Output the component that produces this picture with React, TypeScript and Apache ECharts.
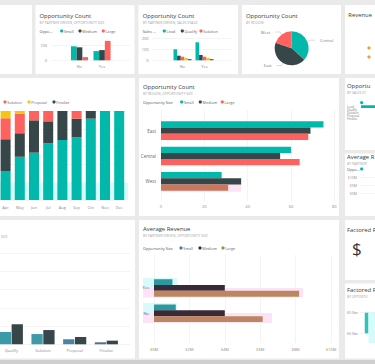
import React, { useEffect, useRef } from 'react';
import * as echarts from 'echarts';

const FONT = "'Open Sans', 'Noto Sans', sans-serif";
const TEAL = '#01B8AA';
const DARK = '#374649';
const RED = '#FD625E';
const YELLOW = '#F2C80F';
const GRAY = '#5F6B6D';

// Tile B: opportunity count by partner driven, opportunity size
const partnerCats = ['No', 'Yes'];
const smallByPartner = [96, 63];
const mediumByPartner = [89, 70];
const largeByPartner = [22, 133];

// Tile C: opportunity count by partner driven, sales stage
const leadByPartner = [100, 164];
const qualifyByPartner = [42, 48];
const solutionByPartner = [33, 33];
const proposalByPartner = [21, 21];
const finalizeByPartner = [12, 12];

// Tile D: opportunity count by region
const regionNames = ['Central', 'East', 'West'];
const regionCounts = [179, 212, 96];

// Tile F: 100% stacked by month
const months = ['Apr', 'May', 'Jun', 'Jul', 'Aug', 'Sep', 'Oct', 'Nov', 'Dec'];
const leadPct = [32.6, 48.7, 53.2, 63.7, 67.4, 70.4, 91.4, 100, 100];
const qualifyPct = [35.6, 26.2, 36.3, 24.7, 32.6, 21.0, 8.6, 0, 0];
const solutionPct = [23.6, 22.1, 10.5, 11.6, 0, 8.6, 0, 0, 0];
const proposalPct = [8.2, 3.0, 0, 0, 0, 0, 0, 0, 0];
const finalizePct = [0, 0, 0, 0, 0, 0, 0, 0, 0];

// Tile G: opportunity count by region, opportunity size
const regionOrder = ['East', 'Central', 'West'];
const smallByRegion = [75, 60, 28];
const mediumByRegion = [69, 55, 37];
const largeByRegion = [68, 64, 31];

// Tile H: by sales stage (funnel)
const stageNames = ['Lead', 'Qualify', 'Solution', 'Proposal', 'Finalize'];
const stageCounts = [264, 90, 66, 42, 24];

// Tile J: by sales stage (grouped columns)
const stageVisible = ['Qualify', 'Solution', 'Proposal', 'Finalize'];
const stageSeriesA = [34, 28, 14, 5.5];
const stageSeriesB = [55, 39, 20, 10];

// Tile K: average revenue ($M) by partner driven, opportunity size
const partnerCatsK = ['Yes', 'No'];
const avgSmall = [1.04, 1.23];
const avgMedium = [4.0, 4.0];
const avgLarge = [8.2, 6.14];

// Tile I tick labels ($M)
const revTicksI = [0, 5, 10];

// Tile M: factored revenue ($bn), first visible column
const factoredCats = ['Small'];
const factoredValues = [0.51];

export default function App() {
  const ref = useRef<HTMLDivElement>(null);
  useEffect(() => {
    document.body.style.margin = '0';
    const chart = echarts.init(ref.current!, undefined, { renderer: 'svg' });

    const grids: any[] = [];
    const xAxes: any[] = [];
    const yAxes: any[] = [];
    const series: any[] = [];
    const addGrid = (g: any, x: any, y: any) => {
      grids.push({ ...g, containLabel: false, outerBoundsMode: 'none' });
      const i = grids.length - 1;
      xAxes.push({ gridIndex: i, ...x });
      yAxes.push({ gridIndex: i, ...y });
      return i;
    };
    const lbl = { fontSize: 4, color: '#8a8a8a', fontFamily: FONT };
    const hidden = (min: number, max: number) => ({ type: 'value', show: false, min, max });
    const noLine = { axisLine: { show: false }, axisTick: { show: false } };
    const split = { lineStyle: { color: '#ececec', width: 0.6 } };

    // ---- B
    addGrid({ left: 52, top: 38.4, width: 78, height: 21.9 }, hidden(0, 1), {
      type: 'value', min: 0, max: 150, interval: 100, ...noLine,
      axisLabel: { ...lbl, margin: 5, showMaxLabel: false },
      splitLine: { ...split, showMaxLine: false },
    });
    const gB = addGrid({ left: 68.25, top: 38.4, width: 45, height: 21.9 },
      { type: 'category', data: partnerCats, ...noLine, axisLabel: { ...lbl, margin: 4 } },
      hidden(0, 150));
    [['Small', smallByPartner, TEAL], ['Medium', mediumByPartner, DARK], ['Large', largeByPartner, RED]].forEach(([n, d, c]) =>
      series.push({ type: 'bar', name: n, data: d, xAxisIndex: gB, yAxisIndex: gB, itemStyle: { color: c }, barGap: '0%', barCategoryGap: '24%' }));

    // ---- C
    addGrid({ left: 152, top: 38.3, width: 80, height: 22 }, hidden(0, 1), {
      type: 'value', min: 0, max: 200, interval: 100, ...noLine,
      axisLabel: { ...lbl, margin: 3.5 }, splitLine: split,
    });
    const gC = addGrid({ left: 171.5, top: 38.3, width: 44, height: 22 },
      { type: 'category', data: partnerCats, ...noLine, axisLabel: { ...lbl, margin: 4 } },
      hidden(0, 200));
    [['Lead', leadByPartner, TEAL], ['Qualify', qualifyByPartner, DARK], ['Solution', solutionByPartner, RED],
     ['Proposal', proposalByPartner, YELLOW], ['Finalize', finalizeByPartner, GRAY]].forEach(([n, d, c]) =>
      series.push({ type: 'bar', name: n, data: d, xAxisIndex: gC, yAxisIndex: gC, itemStyle: { color: c }, barGap: '0%', barCategoryGap: '18%' }));

    // ---- D pie
    const regionColors = [TEAL, DARK, RED];
    series.push({
      type: 'pie', center: [291.7, 48.3], radius: 17, startAngle: 90,
      data: regionNames.map((n, i) => ({ name: n, value: regionCounts[i], itemStyle: { color: regionColors[i] } })),
      label: { fontSize: 4, color: '#777', fontFamily: FONT },
      labelLine: { length: 3, length2: 5, lineStyle: { color: '#bbb', width: 0.5 } },
    });

    // ---- F stacked 100%
    const gF = addGrid({ left: -1.5, top: 111, width: 127.8, height: 89 },
      { type: 'category', data: months, ...noLine, axisLabel: { ...lbl, margin: 5.5, interval: 0 } },
      { type: 'value', min: 0, max: 100, interval: 20, ...noLine, axisLabel: { show: false }, splitLine: split });
    [['Lead', leadPct, TEAL], ['Qualify', qualifyPct, DARK], ['Solution', solutionPct, RED],
     ['Proposal', proposalPct, YELLOW], ['Finalize', finalizePct, GRAY]].forEach(([n, d, c]) =>
      series.push({ type: 'bar', name: n, stack: 'f', data: d, xAxisIndex: gF, yAxisIndex: gF, itemStyle: { color: c }, barWidth: 10 }));

    // ---- G
    addGrid({ left: 161, top: 110, width: 173.3, height: 91 },
      { type: 'value', min: 0, max: 80, interval: 20, ...noLine, axisLabel: { ...lbl, margin: 3 }, splitLine: split },
      hidden(0, 1));
    const gG = addGrid({ left: 161, top: 118, width: 173.3, height: 76 }, hidden(0, 80),
      { type: 'category', data: regionOrder, inverse: true, ...noLine, axisLabel: { ...lbl, fontSize: 4.5, color: '#666', margin: 5 } });
    [['Small', smallByRegion, TEAL], ['Medium', mediumByRegion, DARK], ['Large', largeByRegion, RED]].forEach(([n, d, c]) =>
      series.push({ type: 'bar', name: n, data: d, xAxisIndex: gG, yAxisIndex: gG,
        itemStyle: { color: n === 'Large' ? (p: any) => (p.dataIndex === 2 ? '#c9785f' : RED) : c }, barGap: '0%', barCategoryGap: '26%' }));

    // ---- H funnel-like (centred bars, only the widest reaches into view)
    const gH = addGrid({ left: 361, top: 105, width: 78, height: 16 }, hidden(0, stageCounts[0]),
      { type: 'category', data: stageNames, inverse: true, ...noLine,
        axisLabel: { ...lbl, fontSize: 3, color: '#777', margin: 14, align: 'left', interval: 0 } });
    series.push({ type: 'bar', stack: 'h', data: stageCounts.map(v => (stageCounts[0] - v) / 2), xAxisIndex: gH, yAxisIndex: gH, itemStyle: { color: 'rgba(0,0,0,0)' }, barCategoryGap: '20%', silent: true });
    series.push({ type: 'bar', name: 'Count', stack: 'h', data: stageCounts, xAxisIndex: gH, yAxisIndex: gH, itemStyle: { color: TEAL }, barCategoryGap: '20%' });

    // ---- I axis frame
    addGrid({ left: 359, top: 177, width: 40, height: 16 }, hidden(0, 1), {
      type: 'value', min: revTicksI[0], max: revTicksI[2], interval: revTicksI[1], ...noLine,
      axisLabel: { ...lbl, fontSize: 3.5, margin: 2, formatter: (v: number) => `$${v}M` }, splitLine: split,
    });

    // ---- J grouped columns
    addGrid({ left: -5, top: 253, width: 135, height: 91.3 }, hidden(0, 1), {
      type: 'value', min: 0, max: 250, interval: 50, ...noLine, axisLabel: { show: false }, splitLine: split,
    });
    const gJ = addGrid({ left: -4.5, top: 253, width: 126.7, height: 91.3 },
      { type: 'category', data: stageVisible, ...noLine, axisLabel: { ...lbl, margin: 4, interval: 0 } }, hidden(0, 250));
    const jColors = ['#3a9aa8', '#3d9aa6', '#4f80a6', '#5b6f8a'];
    series.push({ type: 'bar', name: 'No', data: stageSeriesA, xAxisIndex: gJ, yAxisIndex: gJ, itemStyle: { color: (p: any) => jColors[p.dataIndex] }, barGap: '5%', barCategoryGap: '27%' });
    series.push({ type: 'bar', name: 'Yes', data: stageSeriesB, xAxisIndex: gJ, yAxisIndex: gJ, itemStyle: { color: DARK }, barGap: '5%', barCategoryGap: '27%' });

    // ---- K average revenue
    addGrid({ left: 154, top: 255, width: 177, height: 88 },
      { type: 'value', min: 0, max: 10, interval: 2, ...noLine, axisLabel: { ...lbl, margin: 4, formatter: (v: number) => `$${v}M` }, splitLine: split },
      hidden(0, 1));
    const gK = addGrid({ left: 154, top: 275.3, width: 177, height: 50.6 }, hidden(0, 10),
      { type: 'category', data: partnerCatsK, inverse: true, ...noLine, axisLabel: { ...lbl, fontSize: 4, color: '#666', margin: 5 } });
    [['Small', avgSmall, '#2c98a0'], ['Medium', avgMedium, '#3a2a38'], ['Large', avgLarge, '#bd8660']].forEach(([n, d, c]) =>
      series.push({ type: 'bar', name: n, data: d, xAxisIndex: gK, yAxisIndex: gK, itemStyle: { color: c }, barGap: '0%', barCategoryGap: '31%' }));

    // ---- M factored revenue
    addGrid({ left: 360, top: 312.7, width: 15, height: 20.6 }, hidden(0, 1), {
      type: 'value', min: 0, max: 0.5, interval: 0.5, ...noLine,
      axisLabel: { ...lbl, fontSize: 3.5, margin: 2, formatter: (v: number) => `$${v.toFixed(1)}bn` }, splitLine: split,
    });
    const gM = addGrid({ left: 363, top: 312.7, width: 7, height: 20.6 },
      { type: 'category', data: factoredCats, show: false }, hidden(0, 0.5));
    series.push({ type: 'bar', name: 'Factored', data: factoredValues, xAxisIndex: gM, yAxisIndex: gM, itemStyle: { color: '#2fc3bb' }, barWidth: 3.5 });

    // ---- graphics
    const els: any[] = [];
    const tile = (x: number, y: number, w: number, h: number) =>
      els.push({ type: 'rect', z: -10, silent: true, shape: { x, y, width: w, height: h }, style: { fill: '#ffffff' } });
    const band = (x: number, y: number, w: number, h: number, fill: string) =>
      els.push({ type: 'rect', z: -5, silent: true, shape: { x, y, width: w, height: h }, style: { fill } });
    const txt = (text: string, x: number, y: number, size: number, fill: string, extra: any = {}) =>
      els.push({ type: 'text', z: 10, silent: true, x, y, style: { text, fill, fontSize: size, fontFamily: FONT, align: 'left', verticalAlign: 'middle', textAlign: 'left', textVerticalAlign: 'middle', ...extra } });
    const dot = (x: number, y: number, fill: string) =>
      els.push({ type: 'circle', z: 10, silent: true, shape: { cx: x, cy: y, r: 1.6 }, style: { fill } });
    const legend = (x: number, y: number, title: string | null, items: [string, string, number][]) => {
      if (title) txt(title, x, y, 3.8, '#555');
      items.forEach(([n, c, dx]) => { dot(dx, y, c); if (n) txt(n, dx + 2.3, y, 3.8, '#666'); });
    };
    const title = (t: string, sub: string | null, x: number, y: number) => {
      txt(t, x, y, 5.9, '#3a3a3a');
      if (sub) txt(sub, x, y + 6.4, 3.4, '#a5a5a5');
    };

    tile(0, 5, 32, 69);
    tile(35.5, 5, 99, 69);
    tile(138.5, 5, 99.5, 69);
    tile(242, 5, 99, 69);
    tile(345, 5, 40, 69);
    tile(0, 78, 135, 138);
    tile(139, 78, 200, 138);
    tile(345, 78, 40, 72);
    tile(345, 153.5, 40, 62.5);
    tile(0, 220, 135, 138.5);
    tile(139, 220, 200, 138.5);
    tile(345, 220, 40, 60);
    tile(345, 283.5, 40, 75);
    els.push({ type: 'rect', z: -10, silent: true, shape: { x: 0, y: 360, width: 375, height: 4 }, style: { fill: '#cfcfcf' } });

    // highlight bands
    band(0, 183, 128, 17, '#d6fbfb');
    band(161, 184, 80, 7.7, '#fbe4f3');
    band(143, 278, 34, 10, '#d8fafa');
    band(143, 303, 34, 10, '#d8fafa');
    band(143, 288, 160, 9.5, '#fde3f6');
    band(143, 313, 129, 10, '#fde3f6');
    band(368.5, 312, 6.5, 31, '#d6fbfb');

    title('Opportunity Count', 'BY PARTNER DRIVEN, OPPORTUNITY SIZE', 39.5, 15.8);
    legend(39.5, 31, 'Oppo...', [['Small', TEAL, 61.7], ['Medium', DARK, 80], ['Large', RED, 103.3]]);
    title('Opportunity Count', 'BY PARTNER DRIVEN, SALES STAGE', 142.7, 15.8);
    legend(142.7, 31, 'Sales ...', [['Lead', TEAL, 164.3], ['Qualify', DARK, 182.3], ['Solution', RED, 201]]);
    title('Opportunity Count', 'BY REGION', 246, 15.8);
    title('Revenue', null, 348.3, 15);
    legend(0, 102, null, [['Solution', RED, 5], ['Proposal', YELLOW, 29], ['Finalize', DARK, 54]]);
    title('Opportunity Count', 'BY REGION, OPPORTUNITY SIZE', 143, 87);
    legend(143, 102, 'Opportunity Size', [['Small', TEAL, 181.7], ['Medium', DARK, 200.3], ['Large', RED, 222.3]]);
    // right column: only the visible start of each text
    title('Opportu', 'BY SALES ST', 347, 86);
    dot(361.7, 102.7, TEAL);
    title('Average R', 'BY PARTNER', 347, 157);
    legend(347, 169, 'Oppo...', [['', TEAL, 361.7]]);
    txt('SIZE', 1, 236, 3.4, '#a5a5a5');
    title('Average Revenue', 'BY PARTNER DRIVEN, OPPORTUNITY SIZE', 143, 229);
    legend(143, 248, 'Opportunity Size', [['Small', '#4c78a6', 181], ['Medium', '#2b2b2b', 200], ['Large', '#a8874e', 223]]);
    title('Factored R', null, 347, 230);
    txt('$', 352, 248, 17, '#333333');
    title('Factored R', 'BY OPPORTU', 347, 290);
    dot(369, 48, '#f0a030');
    dot(369, 57, '#f0a030');

    chart.setOption({
      animation: false,
      backgroundColor: '#eaeaea',
      textStyle: { fontFamily: FONT },
      grid: grids,
      xAxis: xAxes,
      yAxis: yAxes,
      series,
      graphic: { elements: els },
    });
    return () => chart.dispose();
  }, []);
  return <div ref={ref} style={{ width: 375, height: 364 }} />;
}
